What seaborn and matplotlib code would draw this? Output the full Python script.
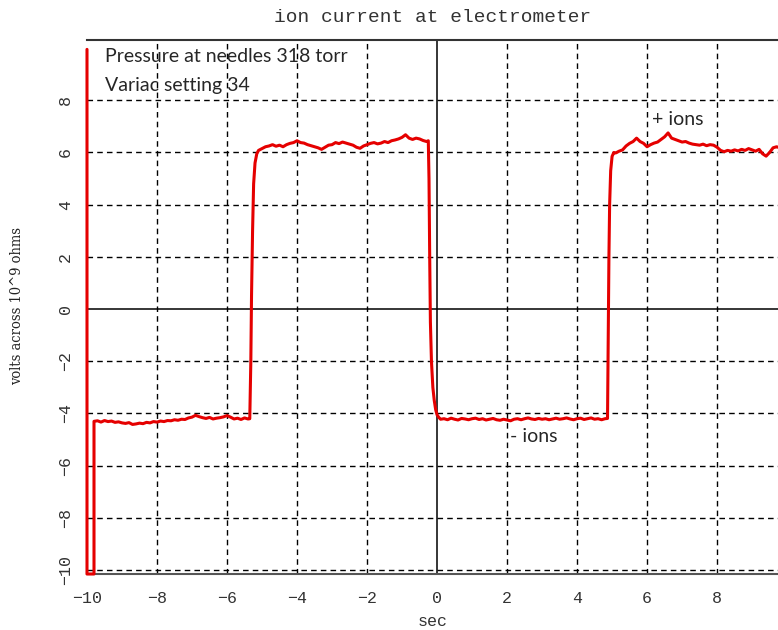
import numpy as np
import pandas as pd
import matplotlib
matplotlib.use('Agg')
import matplotlib.pyplot as plt
import seaborn as sns

# valori (sec, volti)
t = [-10.0, -10.0, -9.8, -9.8,
     -9.7, -9.6, -9.5, -9.4, -9.3, -9.2, -9.1, -9.0, -8.9, -8.8, -8.7, -8.6, -8.5, -8.4,
     -8.3, -8.2, -8.1, -8.0, -7.9, -7.8, -7.7, -7.6, -7.5, -7.4, -7.3, -7.2, -7.1, -7.0,
     -6.9, -6.8, -6.7, -6.6, -6.5, -6.4, -6.3, -6.2, -6.1, -6.0, -5.9, -5.8, -5.7, -5.6,
     -5.5, -5.4, -5.35,
     -5.32, -5.3, -5.27, -5.24, -5.2, -5.15, -5.1, -5.0, -4.9, -4.8, -4.7, -4.6, -4.5,
     -4.4, -4.3, -4.2, -4.1, -4.0, -3.9, -3.8, -3.7, -3.6, -3.5, -3.4, -3.3, -3.2, -3.1,
     -3.0, -2.9, -2.8, -2.7, -2.6, -2.5, -2.4, -2.3, -2.2, -2.1, -2.0, -1.9, -1.8, -1.7,
     -1.6, -1.5, -1.4, -1.3, -1.2, -1.1, -1.0, -0.9, -0.8, -0.7, -0.6, -0.5, -0.4, -0.3,
     -0.25,
     -0.23, -0.21, -0.19, -0.16, -0.12, -0.08, -0.04, 0.0, 0.05, 0.1, 0.2, 0.3, 0.4, 0.5,
     0.6, 0.7, 0.8, 0.9, 1.0, 1.1, 1.2, 1.3, 1.4, 1.5, 1.6, 1.7, 1.8, 1.9, 2.0, 2.1, 2.2,
     2.3, 2.4, 2.5, 2.6, 2.7, 2.8, 2.9, 3.0, 3.1, 3.2, 3.3, 3.4, 3.5, 3.6, 3.7, 3.8, 3.9,
     4.0, 4.1, 4.2, 4.3, 4.4, 4.5, 4.6, 4.7, 4.8, 4.87,
     4.89, 4.91, 4.93, 4.96, 5.0, 5.05, 5.1, 5.2, 5.3, 5.4, 5.5, 5.6, 5.7, 5.8, 5.9, 6.0,
     6.1, 6.2, 6.3, 6.4, 6.5, 6.6, 6.7, 6.8, 6.9, 7.0, 7.1, 7.2, 7.3, 7.4, 7.5, 7.6, 7.7,
     7.8, 7.9, 8.0, 8.1, 8.2, 8.3, 8.4, 8.5, 8.6, 8.7, 8.8, 8.9, 9.0, 9.1, 9.2, 9.3, 9.4,
     9.5, 9.6, 9.7, 9.74]

v = [9.95, -10.15, -10.15, -4.3,
     -4.28, -4.33, -4.27, -4.31, -4.29, -4.34, -4.32, -4.36, -4.38, -4.35, -4.42, -4.40,
     -4.37, -4.39, -4.34, -4.36, -4.31, -4.33, -4.29, -4.31, -4.27, -4.28, -4.24, -4.26,
     -4.22, -4.23, -4.17, -4.14, -4.07, -4.12, -4.16, -4.19, -4.15, -4.21, -4.18, -4.16,
     -4.13, -4.08, -4.14, -4.21, -4.18, -4.23, -4.17, -4.21, -4.2,
     -2.0, 0.5, 3.0, 4.8, 5.6, 5.95, 6.08, 6.15, 6.22, 6.25, 6.3, 6.24, 6.28,
     6.22, 6.3, 6.35, 6.38, 6.45, 6.38, 6.36, 6.3, 6.26, 6.22, 6.18, 6.12, 6.2, 6.28,
     6.3, 6.38, 6.34, 6.4, 6.36, 6.32, 6.28, 6.2, 6.16, 6.25, 6.3, 6.35, 6.38, 6.33,
     6.36, 6.42, 6.38, 6.45, 6.48, 6.52, 6.58, 6.68, 6.55, 6.5, 6.55, 6.52, 6.46, 6.42,
     6.45,
     5.0, 2.0, -0.5, -2.0, -3.0, -3.5, -3.85, -4.05, -4.15, -4.22, -4.2, -4.24, -4.18, -4.22,
     -4.25, -4.19, -4.21, -4.24, -4.2, -4.18, -4.23, -4.2, -4.25, -4.22, -4.19, -4.24,
     -4.26, -4.22, -4.25, -4.28, -4.22, -4.2, -4.24, -4.2, -4.17, -4.21, -4.23, -4.19,
     -4.22, -4.2, -4.24, -4.21, -4.18, -4.22, -4.2, -4.17, -4.21, -4.24, -4.2, -4.18,
     -4.23, -4.2, -4.17, -4.22, -4.2, -4.24, -4.2, -4.19,
     -1.0, 2.0, 4.0, 5.3, 5.85, 6.0, 5.98, 6.05, 6.1, 6.25, 6.35, 6.42, 6.55, 6.42, 6.35,
     6.22, 6.3, 6.36, 6.4, 6.5, 6.6, 6.75, 6.55, 6.5, 6.45, 6.4, 6.42, 6.36, 6.32, 6.3,
     6.28, 6.32, 6.26, 6.3, 6.28, 6.2, 6.08, 6.03, 6.08, 6.05, 6.1, 6.06, 6.12, 6.08,
     6.15, 6.1, 6.05, 6.12, 5.95, 5.86, 6.0, 6.18, 6.22, 6.2]

x_ticks = [-10, -8, -6, -4, -2, 0, 2, 4, 6, 8]
y_ticks = [-10, -8, -6, -4, -2, 0, 2, 4, 6, 8]

df = pd.DataFrame({'sec': t, 'volts': v})

sns.set_style('white')
plt.rcParams['font.family'] = ['Liberation Mono', 'DejaVu Sans']
plt.rcParams['axes.unicode_minus'] = True

fig = plt.figure(figsize=(7.78, 6.3), dpi=100)
ax = fig.add_axes([87/778, 56/630, 691/778, 534/630])

# grila punctata + axele zero
for xv in x_ticks:
    if xv == 0:
        ax.axvline(0, color='black', lw=1.1, zorder=1)
    elif xv > -10:
        ax.axvline(xv, color='black', lw=1.0, ls=(0, (4, 3)), zorder=1)
for yv in y_ticks:
    if yv == 0:
        ax.axhline(0, color='black', lw=1.1, zorder=1)
    else:
        ax.axhline(yv, color='black', lw=1.0, ls=(0, (4, 3)), zorder=1)

sns.lineplot(data=df, x='sec', y='volts', sort=False, estimator=None,
             color='#e50000', lw=2.2, ax=ax, zorder=3)
ax.lines[-1].set_clip_on(False)

ax.set_xlim(-10, 9.74)
ax.set_ylim(-10.15, 10.31)
ax.set_xticks(x_ticks)
ax.set_yticks(y_ticks)
ax.tick_params(axis='x', length=0, pad=12, labelsize=12, colors='#333333')
ax.tick_params(axis='y', length=0, pad=10, labelsize=12, colors='#333333')
for lab in ax.get_yticklabels():
    lab.set_rotation(90)
    lab.set_va('center')

for side in ['left', 'right']:
    ax.spines[side].set_visible(False)
ax.spines['top'].set_color('#333333')
ax.spines['top'].set_linewidth(1.5)
ax.spines['bottom'].set_color('#555555')
ax.spines['bottom'].set_linewidth(1.5)

ax.set_title('ion current at electrometer', fontsize=14, pad=13, color='#333333')
ax.set_xlabel('sec', fontsize=12, labelpad=6, color='#333333')
ax.set_ylabel('')
fig.text(17/778, 1 - 306/630, 'volts across 10^9 ohms', rotation=90,
         ha='center', va='center', fontsize=10.5, family='DejaVu Serif',
         fontstretch='condensed', color='#222222')

sans = ['Lato', 'DejaVu Sans']
ax.text(-9.49, 9.66, 'Pressure at needles 318 torr', family=sans, fontsize=14, va='center')
ax.text(-9.49, 8.58, 'Variac setting 34', family=sans, fontsize=14, va='center')
ax.text(6.14, 7.28, '+ ions', family=sans, fontsize=14, va='center')
ax.text(2.09, -4.9, '- ions', family=sans, fontsize=14, va='center')

plt.savefig('out.png', dpi=100)
